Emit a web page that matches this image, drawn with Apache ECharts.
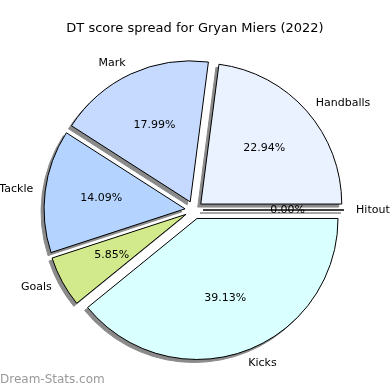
<!DOCTYPE html>
<html><head><meta charset="utf-8">
<script src="https://cdn.jsdelivr.net/npm/echarts@6/dist/echarts.min.js"></script>
<style>html,body{margin:0;padding:0;background:#fff}#c{width:390px;height:390px}</style>
</head><body><div id="c"></div>
<script>
const categories = ['Handballs', 'Mark', 'Tackle', 'Goals', 'Kicks', 'Hitout'];
const percents = [22.94, 17.99, 14.09, 5.85, 39.13, 0.00];
const colors = ['#eaf1ff', '#c6d9ff', '#b4d4ff', '#d2ea8c', '#d9ffff', '#ffffff'];

const R = 141, CX = 194, CY = 210, OFF = 9, SH = 3;
const font = 'DejaVu Sans';

const mainData = categories.map((c, i) => ({
  name: c, value: percents[i], selected: true,
  itemStyle: { color: colors[i] }
}));
const plainData = categories.map((c, i) => ({
  name: c, value: percents[i], selected: true
}));

const common = {
  type: 'pie', startAngle: 0, clockwise: false,
  selectedMode: 'multiple', selectedOffset: OFF,
  avoidLabelOverlap: false, silent: true,
  emphasis: { disabled: true }
};

const chart = echarts.init(document.getElementById('c'), null, { renderer: 'canvas' });
chart.setOption({
  animation: false,
  title: {
    text: 'DT score spread for Gryan Miers (2022)',
    left: 'center', top: 17,
    textStyle: { fontFamily: font, fontSize: 13, fontWeight: 'normal', color: '#000' }
  },
  graphic: [{
    type: 'text', left: 0, top: 374,
    style: { text: 'Dream-Stats.com', fontFamily: font, fontSize: 12, fontWeight: 'normal', fill: '#999' }
  }],
  series: [
    Object.assign({}, common, {
      center: [CX - SH, CY + SH], radius: [0, R],
      itemStyle: { color: '#8a8a8a', borderColor: '#8a8a8a', borderWidth: 1 },
      select: { itemStyle: { color: '#8a8a8a', borderColor: '#8a8a8a', borderWidth: 1 } },
      label: { show: false }, labelLine: { show: false },
      data: plainData.map(d => Object.assign({}, d))
    }),
    Object.assign({}, common, {
      center: [CX, CY], radius: [0, R],
      itemStyle: { borderColor: '#000', borderWidth: 1 },
      select: { itemStyle: { borderColor: '#000', borderWidth: 1 } },
      label: {
        show: true, position: 'outside', formatter: '{b}',
        fontFamily: font, fontSize: 11, color: '#000', distanceToLabelLine: 0
      },
      labelLine: { show: false, length: R * 0.1 - 2, length2: 0 },
      data: mainData
    }),
    Object.assign({}, common, {
      center: [CX, CY], radius: [R * 0.2 - 6, R],
      itemStyle: { color: 'rgba(0,0,0,0)', borderWidth: 0 },
      select: { itemStyle: { color: 'rgba(0,0,0,0)', borderWidth: 0 } },
      label: {
        show: true, position: 'inside',
        formatter: p => p.value.toFixed(2) + '%',
        fontFamily: font, fontSize: 11, color: '#000'
      },
      labelLine: { show: false },
      data: plainData.map(d => Object.assign({}, d))
    })
  ]
});
</script></body></html>
